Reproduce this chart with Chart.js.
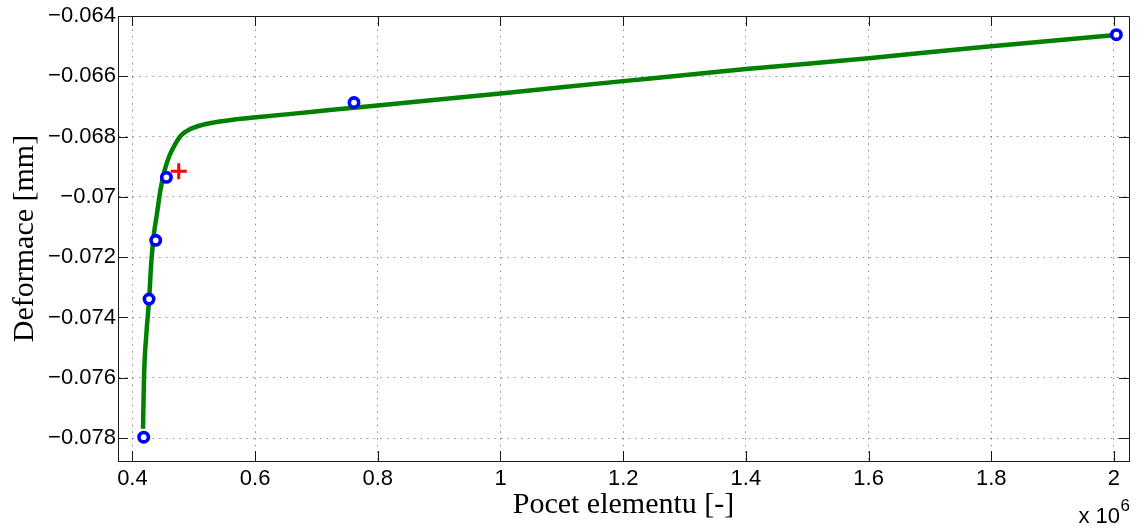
<!DOCTYPE html>
<html>
<head>
<meta charset="utf-8">
<script src="https://cdn.jsdelivr.net/npm/chart.js@4.4.1/dist/chart.umd.min.js"></script>
<style>
  html, body { margin: 0; padding: 0; background: #ffffff; }
  #wrap { width: 1141px; height: 528px; position: relative; }
</style>
</head>
<body>
<div id="wrap"><canvas id="c" width="1141" height="528"></canvas></div>
<script>
// Fitted curve: number of elements (x 10^6) vs deformation [mm]
const curveX = [0.4173, 0.4189, 0.4228, 0.4271, 0.4310, 0.4352, 0.4401, 0.4456, 0.4526, 0.4608,
                0.4689, 0.4799, 0.4934, 0.5125, 0.5395, 0.5667, 0.6021, 0.6673, 0.7216, 0.7868,
                1.0, 1.2, 1.4, 1.6, 1.8, 2.003];
const curveY = [-0.07769, -0.07598, -0.07453, -0.07343, -0.07210, -0.07121, -0.07055, -0.06978, -0.06911, -0.06861,
                -0.06828, -0.06795, -0.06776, -0.06762, -0.06751, -0.06743, -0.06736, -0.06723, -0.06712, -0.06699,
                -0.06657, -0.06616, -0.06576, -0.06540, -0.06500, -0.06463];
// Measured points (blue circles)
const measX = [0.4184, 0.4271, 0.4380, 0.4554, 0.7612, 2.0039];
const measY = [-0.07797, -0.07339, -0.07144, -0.06935, -0.06687, -0.06462];
// Highlighted point (red plus)
const markX = [0.4755];
const markY = [-0.06915];
// Axis settings
const xMin = 0.3765, xMax = 2.0245, xStep = 0.2;
const yMin = -0.07876, yMax = -0.064, yStep = 0.002;
const xTitle = 'Pocet elementu [-]';
const yTitle = 'Deformace [mm]';
const xExponent = '6';

const toXY = (xs, ys) => xs.map((x, i) => ({x: x, y: ys[i]}));

const AXIS_COLOR = '#1a1a1a';
const boxTicks = {
  id: 'boxTicks',
  afterDraw(chart) {
    const {ctx, chartArea: a, scales} = chart;
    const L = 10;
    ctx.save();
    ctx.strokeStyle = AXIS_COLOR;
    ctx.lineWidth = 1;
    ctx.beginPath();
    ctx.moveTo(Math.round(a.left) + 0.5, Math.round(a.top) + 0.5);
    ctx.lineTo(Math.round(a.right) + 0.5, Math.round(a.top) + 0.5);
    ctx.lineTo(Math.round(a.right) + 0.5, Math.round(a.bottom) + 0.5);
    scales.x.ticks.forEach(t => {
      const px = Math.round(scales.x.getPixelForValue(t.value)) + 0.5;
      ctx.moveTo(px, a.bottom); ctx.lineTo(px, a.bottom - L);
      ctx.moveTo(px, a.top); ctx.lineTo(px, a.top + L);
    });
    scales.y.ticks.forEach(t => {
      const py = Math.round(scales.y.getPixelForValue(t.value)) + 0.5;
      ctx.moveTo(a.left, py); ctx.lineTo(a.left + L, py);
      ctx.moveTo(a.right, py); ctx.lineTo(a.right - L, py);
    });
    ctx.stroke();
    ctx.fillStyle = '#000';
    ctx.textBaseline = 'alphabetic';
    ctx.font = '22px "Liberation Sans", Arial, sans-serif';
    ctx.textAlign = 'right';
    ctx.fillText('x 10', a.right - 9, 523);
    ctx.font = '17px "Liberation Sans", Arial, sans-serif';
    ctx.textAlign = 'left';
    ctx.fillText(xExponent, a.right - 8.5, 511);
    ctx.restore();
  }
};

const tickFont = {family: '"Liberation Sans", Arial, sans-serif', size: 22};
const titleFont = {family: '"Liberation Serif", "Times New Roman", serif', size: 30};

new Chart(document.getElementById('c'), {
  type: 'scatter',
  data: {
    datasets: [
      {
        label: 'mark',
        data: toXY(markX, markY),
        pointStyle: 'cross',
        pointRadius: 8,
        pointBorderWidth: 3,
        borderColor: '#ff0000',
        backgroundColor: '#ff0000',
        order: 0
      },
      {
        label: 'measured',
        data: toXY(measX, measY),
        pointStyle: 'circle',
        pointRadius: 4.7,
        pointBorderWidth: 3.6,
        borderColor: '#0000ff',
        backgroundColor: '#ffffff',
        order: 1
      },
      {
        label: 'fit',
        data: toXY(curveX, curveY),
        showLine: true,
        pointRadius: 0,
        borderColor: '#008000',
        borderWidth: 4.5,
        cubicInterpolationMode: 'monotone',
        order: 2
      }
    ]
  },
  options: {
    responsive: false,
    animation: false,
    devicePixelRatio: 1,
    layout: {padding: {left: 0, right: 12, top: 16, bottom: 0}},
    plugins: {legend: {display: false}, tooltip: {enabled: false}},
    scales: {
      x: {
        type: 'linear',
        min: xMin, max: xMax,
        afterFit(s) { s.height = 67; },
        ticks: {
          stepSize: xStep,
          includeBounds: false,
          autoSkip: false,
          maxRotation: 0,
          padding: 5,
          color: '#000',
          font: tickFont,
          callback: v => String(parseFloat(v.toFixed(2)))
        },
        grid: {color: 'rgba(0,0,0,0.45)', lineWidth: 1, drawTicks: false},
        border: {display: true, color: AXIS_COLOR, width: 1, dash: [1.5, 5.2]},
        title: {display: true, text: xTitle, color: '#000', font: titleFont, padding: {top: 0, bottom: 5}}
      },
      y: {
        type: 'linear',
        min: yMin, max: yMax,
        afterFit(s) { s.width = 118; },
        ticks: {
          stepSize: yStep,
          includeBounds: false,
          autoSkip: false,
          padding: 2,
          color: '#000',
          font: tickFont,
          callback: v => String(parseFloat(v.toFixed(3))).replace('-', '\u2212')
        },
        grid: {color: 'rgba(0,0,0,0.45)', lineWidth: 1, drawTicks: false},
        border: {display: true, color: AXIS_COLOR, width: 1, dash: [1.5, 5.2]},
        title: {display: true, text: yTitle, color: '#000', font: titleFont, padding: {top: 7, bottom: 0}}
      }
    }
  },
  plugins: [boxTicks]
});
</script>
</body>
</html>
